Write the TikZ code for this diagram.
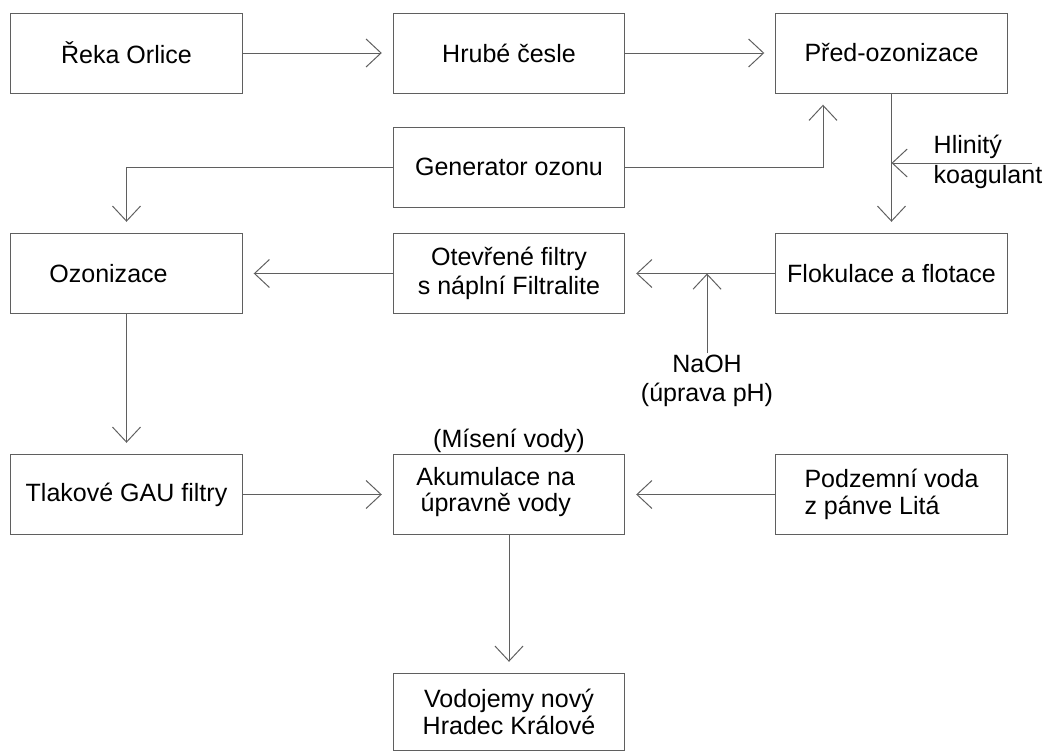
\documentclass[tikz,border=0pt]{standalone}
\usepackage{fontspec}
\setmainfont{Liberation Sans}
\usepackage{xcolor}
\usepackage{tikz}
\usetikzlibrary{arrows.meta, positioning, calc}
\definecolor{linegray}{RGB}{95,95,95}
\tikzset{
  box/.style={draw=linegray, line width=0.7pt, minimum width=5.775cm, minimum height=2cm, align=center, inner sep=0pt},
  tight/.style={font=\fontsize{17.8}{19}\selectfont},
  note/.style={align=center, inner sep=1pt},
  link/.style={-{Straight Barb[length=0.375cm, width=0.7cm]}, draw=linegray, line width=0.7pt, shorten >=0.28cm}
}

\begin{document}
\begin{tikzpicture}[x=0.025cm, y=-0.025cm, font=\fontsize{17.8}{20.8}\selectfont]
        \useasboundingbox (0,0) rectangle (1048,751);

        % Process boxes
        \node[box] (reka)  at (126.5, 53)   {Řeka Orlice};
        \node[box] (hrube) at (509, 53)     {Hrubé česle};
        \node[box] (pred)  at (891.5, 53)   {Před-ozonizace};
        \node[box] (gen)   at (509, 167)    {Generator ozonu};
        \node[box, label={[xshift=-0.45cm]center:Ozonizace}] (ozon) at (126.5, 273.5) {};
        \node[box] (otev)  at (509, 273.5)  {Otevřené filtry\\s náplní Filtralite};
        \node[box] (flok)  at (891.5, 273.5) {Flokulace a flotace};
        \node[box] (tlak)  at (126.5, 494.5) {Tlakové GAU filtry};
        \node[box, label={[tight, xshift=-0.33cm, yshift=0.06cm, align=center]center:Akumulace na\\úpravně vody}] (akum) at (509, 494.5) {};
        \node[box, tight, align=left] (podz) at (891.5, 494.5) {Podzemní voda\\ z pánve Litá};
        \node[box, tight, minimum height=1.925cm] (vodo) at (509, 712) {Vodojemy nový\\Hradec Králové};

        % Side inputs
        \node[note, align=left, anchor=west] (hlin) at (932, 162) {Hlinitý\\koagulant};
        \coordinate (hlinin) at (1032, 163);
        \node[note, below=0.98cm of otev.south east, xshift=2.05cm] (naoh) {NaOH\\(úprava pH)};
        \node[note, inner sep=0pt, above=0.03cm of akum] (misen) {(Mísení vody)};

        % Links
        \draw[link] (reka) -- (hrube);
        \draw[link] (hrube) -- (pred);
        \draw[link] (gen.east) -| ($(pred.south)+(-68.5,0)$);
        \draw[link] (gen.west) -| (ozon.north);
        \draw[link] (pred) -- (flok);
        \draw[link, shorten >=0pt] (hlinin) -- (hlinin -| pred.south);
        \draw[link] (flok) -- (otev);
        \draw[link, shorten >=0pt] (naoh.north) -- (naoh.north |- flok.west);
        \draw[link] (otev) -- (ozon);
        \draw[link] (ozon) -- (tlak);
        \draw[link] (tlak) -- (akum);
        \draw[link] (podz) -- (akum);
        \draw[link] (akum) -- (vodo);
    \end{tikzpicture}
\end{document}
